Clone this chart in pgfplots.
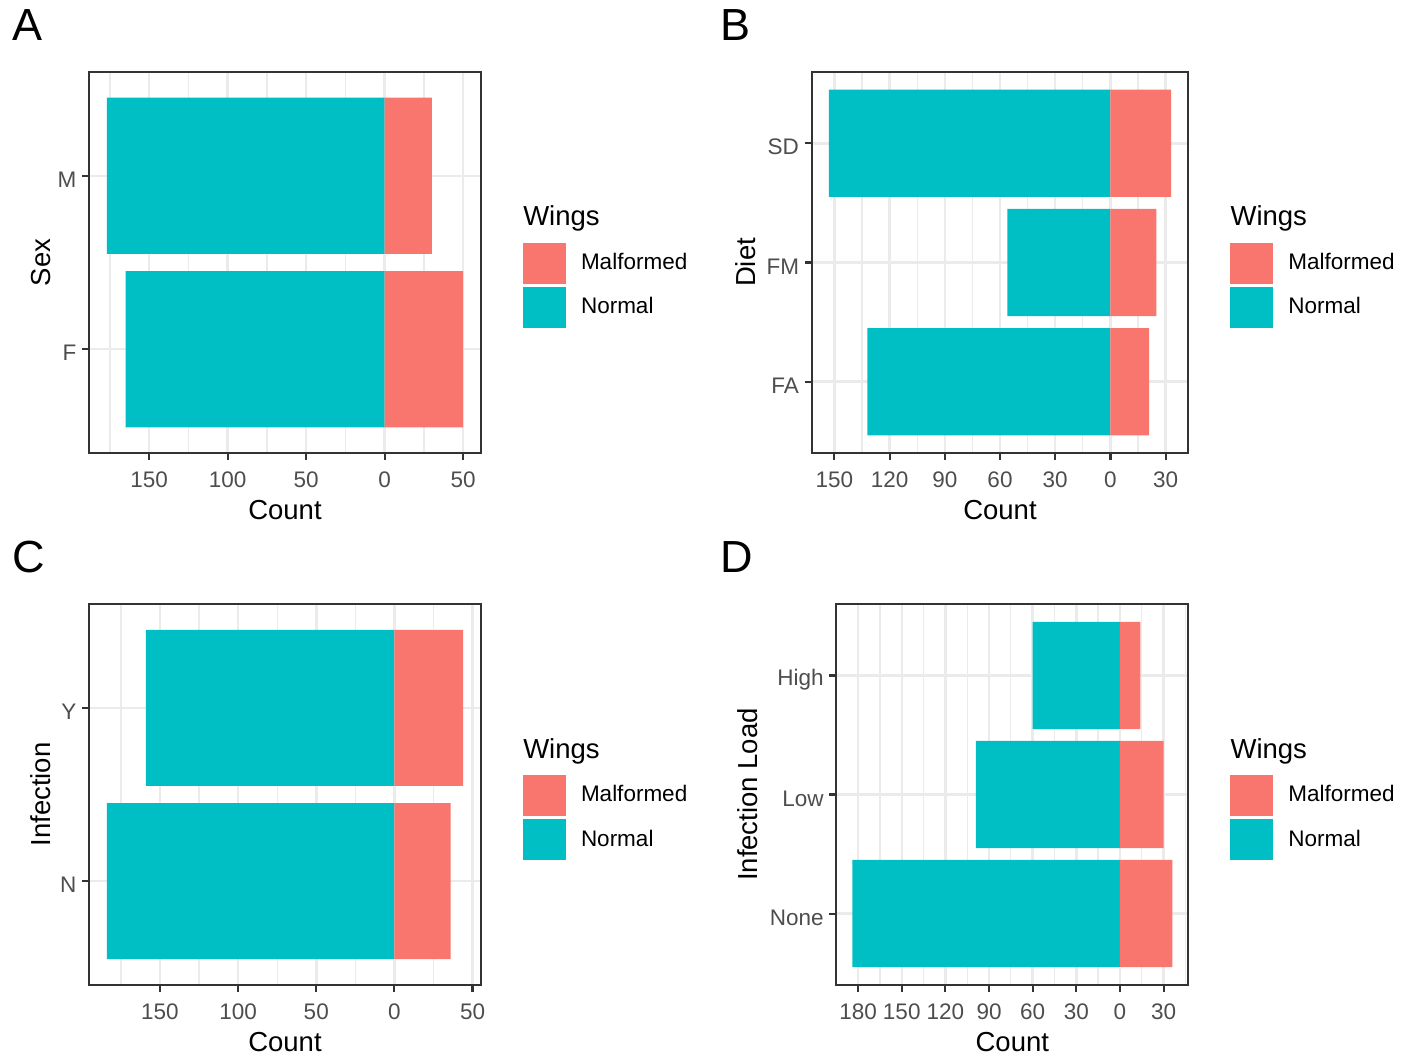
\documentclass[border=0pt]{standalone}
\usepackage{pgfplots}
\pgfplotsset{compat=1.18}
\usepackage{fontspec}
\setmainfont{Liberation Sans}

\definecolor{malf}{HTML}{F8766D}
\definecolor{norm}{HTML}{00BFC4}
\definecolor{grey30}{HTML}{4D4D4D}
\definecolor{grey20}{HTML}{333333}
\definecolor{grey92}{HTML}{EBEBEB}

\newcommand{\ticksize}{\fontsize{9}{10.5}\selectfont}
\newcommand{\titlesize}{\fontsize{11}{13}\selectfont}

\pgfplotsset{
  wingpanel/.style={
    scale only axis,
    clip mode=individual,
    axis line style={grey20, line width=0.85pt},
    tick style={grey20, line width=0.85pt},
    tick align=outside,
    major tick length=2.75pt,
    minor tick length=0pt,
    tick pos=left,
    xmajorgrids=true, ymajorgrids=true, xminorgrids=true,
    major grid style={grey92, line width=1pt},
    minor grid style={grey92, line width=0.5pt},
    ticklabel style={font=\ticksize, text=grey30},
    xticklabel style={yshift=-1.2pt},
    yticklabel style={xshift=1.2pt, yshift=-1.6pt},
    every axis x label/.style={at={(axis description cs:0.5,0)}, anchor=base, yshift=-26.4pt, font=\titlesize},
    legend style={at={(axis description cs:1,1)}, anchor=north west,
      xshift=16.7pt, yshift=-68.4pt, draw=none, fill=none,
      inner sep=0pt, outer sep=0pt, row sep=1.3pt, column sep=6pt,
      nodes={inner sep=0pt, font=\ticksize, text=black}},
    legend cell align=left,
    xlabel={Count},
  },
  ylab/.style={every axis y label/.style={at={([xshift=-#1]axis description cs:0,0.5)}, rotate=90, anchor=base, font=\titlesize}},
  malfkey/.style={legend image code/.code={\fill[malf] (0pt,-8pt) rectangle (16.9pt,8pt);}},
  normkey/.style={legend image code/.code={\fill[norm] (0pt,-8pt) rectangle (16.9pt,8pt);}},
  normbar/.style={xbar, bar width=0.9, bar shift=0pt, fill=norm, draw=none, forget plot},
  malfbar/.style={xbar, bar width=0.9, bar shift=0pt, fill=malf, draw=none, forget plot},
}

% Normal counts are drawn to the left (negative), malformed to the right
\newcommand{\wingslegend}{%
  \addlegendimage{malfkey}\addlegendentry{Malformed}
  \addlegendimage{normkey}\addlegendentry{Normal}
  \node[anchor=base west, inner sep=0pt, font=\titlesize]
    at ([xshift=16.7pt, yshift=-61.7pt]axis description cs:1,1) {Wings};
}

\begin{document}
\begin{tikzpicture}
\path[use as bounding box] (0,0) rectangle (566pt,423.6pt);

% A: Sex
\begin{axis}[wingpanel, ylab=15.3pt,
  at={(35.6pt,242.28pt)}, anchor=south west,
  width=156.8pt, height=152.64pt,
  xmin=-188.35, xmax=61.35, ymin=0.4, ymax=2.6,
  xtick={-150,-100,-50,0,50}, xticklabels={150,100,50,0,50},
  minor xtick={-175,-125,-75,-25,25},
  ytick={1,2}, yticklabels={F,M},
  ylabel={Sex}]
\addplot[normbar] coordinates {(-165,1) (-177,2)};
\addplot[malfbar] coordinates {(50,1) (30,2)};
\wingslegend
\end{axis}

% B: Diet
\begin{axis}[wingpanel, ylab=22.4pt,
  at={(324.68pt,242.28pt)}, anchor=south west,
  width=150.64pt, height=152.64pt,
  xmin=-162.3, xmax=42.3, ymin=0.4, ymax=3.6,
  xtick={-150,-120,-90,-60,-30,0,30}, xticklabels={150,120,90,60,30,0,30},
  minor xtick={-135,-105,-75,-45,-15,15},
  ytick={1,2,3}, yticklabels={FA,FM,SD},
  ylabel={Diet}]
\addplot[normbar] coordinates {(-132,1) (-56,2) (-153,3)};
\addplot[malfbar] coordinates {(21,1) (25,2) (33,3)};
\wingslegend
\end{axis}

% C: Infection
\begin{axis}[wingpanel, ylab=15.3pt,
  at={(35.6pt,29.6pt)}, anchor=south west,
  width=156.8pt, height=152.4pt,
  xmin=-195.4, xmax=55.4, ymin=0.4, ymax=2.6,
  xtick={-150,-100,-50,0,50}, xticklabels={150,100,50,0,50},
  minor xtick={-175,-125,-75,-25,25},
  ytick={1,2}, yticklabels={N,Y},
  ylabel={Infection}]
\addplot[normbar] coordinates {(-184,1) (-159,2)};
\addplot[malfbar] coordinates {(36,1) (44,2)};
\wingslegend
\end{axis}

% D: Infection load
\begin{axis}[wingpanel, ylab=31.6pt,
  at={(334.52pt,29.6pt)}, anchor=south west,
  width=140.8pt, height=152.4pt,
  xmin=-195, xmax=47, ymin=0.4, ymax=3.6,
  xtick={-180,-150,-120,-90,-60,-30,0,30}, xticklabels={180,150,120,90,60,30,0,30},
  minor xtick={-165,-135,-105,-75,-45,-15,15,45},
  ytick={1,2,3}, yticklabels={None,Low,High},
  ylabel={Infection Load}]
\addplot[normbar] coordinates {(-184,1) (-99,2) (-60,3)};
\addplot[malfbar] coordinates {(36,1) (30,2) (14,3)};
\wingslegend
\end{axis}

% panel tags
\node[anchor=base west, inner sep=0pt, font=\fontsize{18}{20}\selectfont] at (4.8pt,407.3pt) {A};
\node[anchor=base west, inner sep=0pt, font=\fontsize{18}{20}\selectfont] at (288pt,407.3pt) {B};
\node[anchor=base west, inner sep=0pt, font=\fontsize{18}{20}\selectfont] at (4.8pt,194.4pt) {C};
\node[anchor=base west, inner sep=0pt, font=\fontsize{18}{20}\selectfont] at (288pt,194.4pt) {D};
\end{tikzpicture}
\end{document}
